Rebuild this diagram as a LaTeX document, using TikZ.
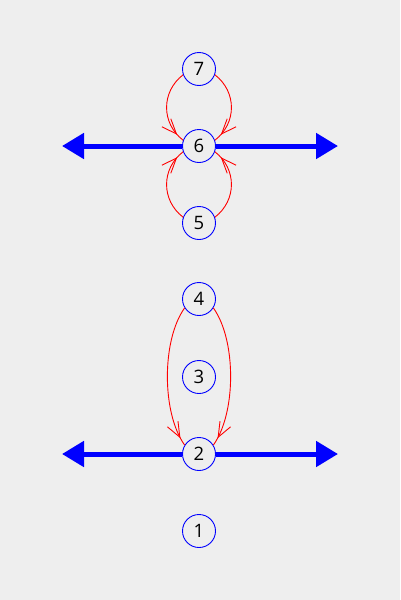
\documentclass[tikz,border=0pt]{standalone}
\usepackage{fontspec}
\setmainfont{Open Sans}
\usepackage{tikz}
\usetikzlibrary{arrows.meta,positioning,decorations.markings}
\definecolor{bggray}{RGB}{238, 238, 238}
\definecolor{ringblue}{RGB}{0, 0, 255}
\definecolor{loopred}{RGB}{255, 0, 0}

\begin{document}
\begin{tikzpicture}[x=1pt,y=-1pt,
    spot/.style={circle,draw=ringblue,fill=bggray,line width=0.9pt,minimum size=33pt,inner sep=0pt,font=\fontsize{18.5}{18.5}\selectfont},
    axisline/.style={ringblue,line width=5pt,-{Triangle[length=22pt,width=25pt]}},
    redloop/.style={loopred,line width=0.9pt,postaction={decorate},
        decoration={markings,mark=at position -8pt with {\arrow{Straight Barb[length=15pt,width=12pt,line width=0.9pt]}}}}]
    % background
    \fill[bggray] (0,0) rectangle (400,600);

    % the seven spots on the vertical line
    \node[spot] (n1) at (199,531) {1};
    \node[spot] (n2) at (199,454) {2};
    \node[spot] (n3) at (199,377) {3};
    \node[spot] (n4) at (199,299) {4};
    \node[spot] (n5) at (199,223) {5};
    \node[spot] (n6) at (199,146) {6};
    \node[spot] (n7) at (199,69) {7};

    % blue axes through 6 and 2
    \coordinate (l6) at (62,146);
    \coordinate (r6) at (338,146);
    \coordinate (l2) at (62,454);
    \coordinate (r2) at (338,454);
    \draw[axisline] (n6) -- (l6);
    \draw[axisline] (n6) -- (r6);
    \draw[axisline] (n2) -- (l2);
    \draw[axisline] (n2) -- (r2);

    % red loops into 6
    \draw[redloop] (n7.200) .. controls +(-22,17) and +(-22,-17) .. (n6.160);
    \draw[redloop] (n7.340) .. controls +(22,17) and +(22,-17) .. (n6.20);
    \draw[redloop] (n5.160) .. controls +(-22,-17) and +(-22,17) .. (n6.200);
    \draw[redloop] (n5.20) .. controls +(22,-17) and +(22,17) .. (n6.340);

    % red loops from 4 into 2
    \draw[redloop] (n4.212) .. controls +(-23,32) and +(-23,-32) .. (n2.148);
    \draw[redloop] (n4.328) .. controls +(23,32) and +(23,-32) .. (n2.32);
\end{tikzpicture}
\end{document}
